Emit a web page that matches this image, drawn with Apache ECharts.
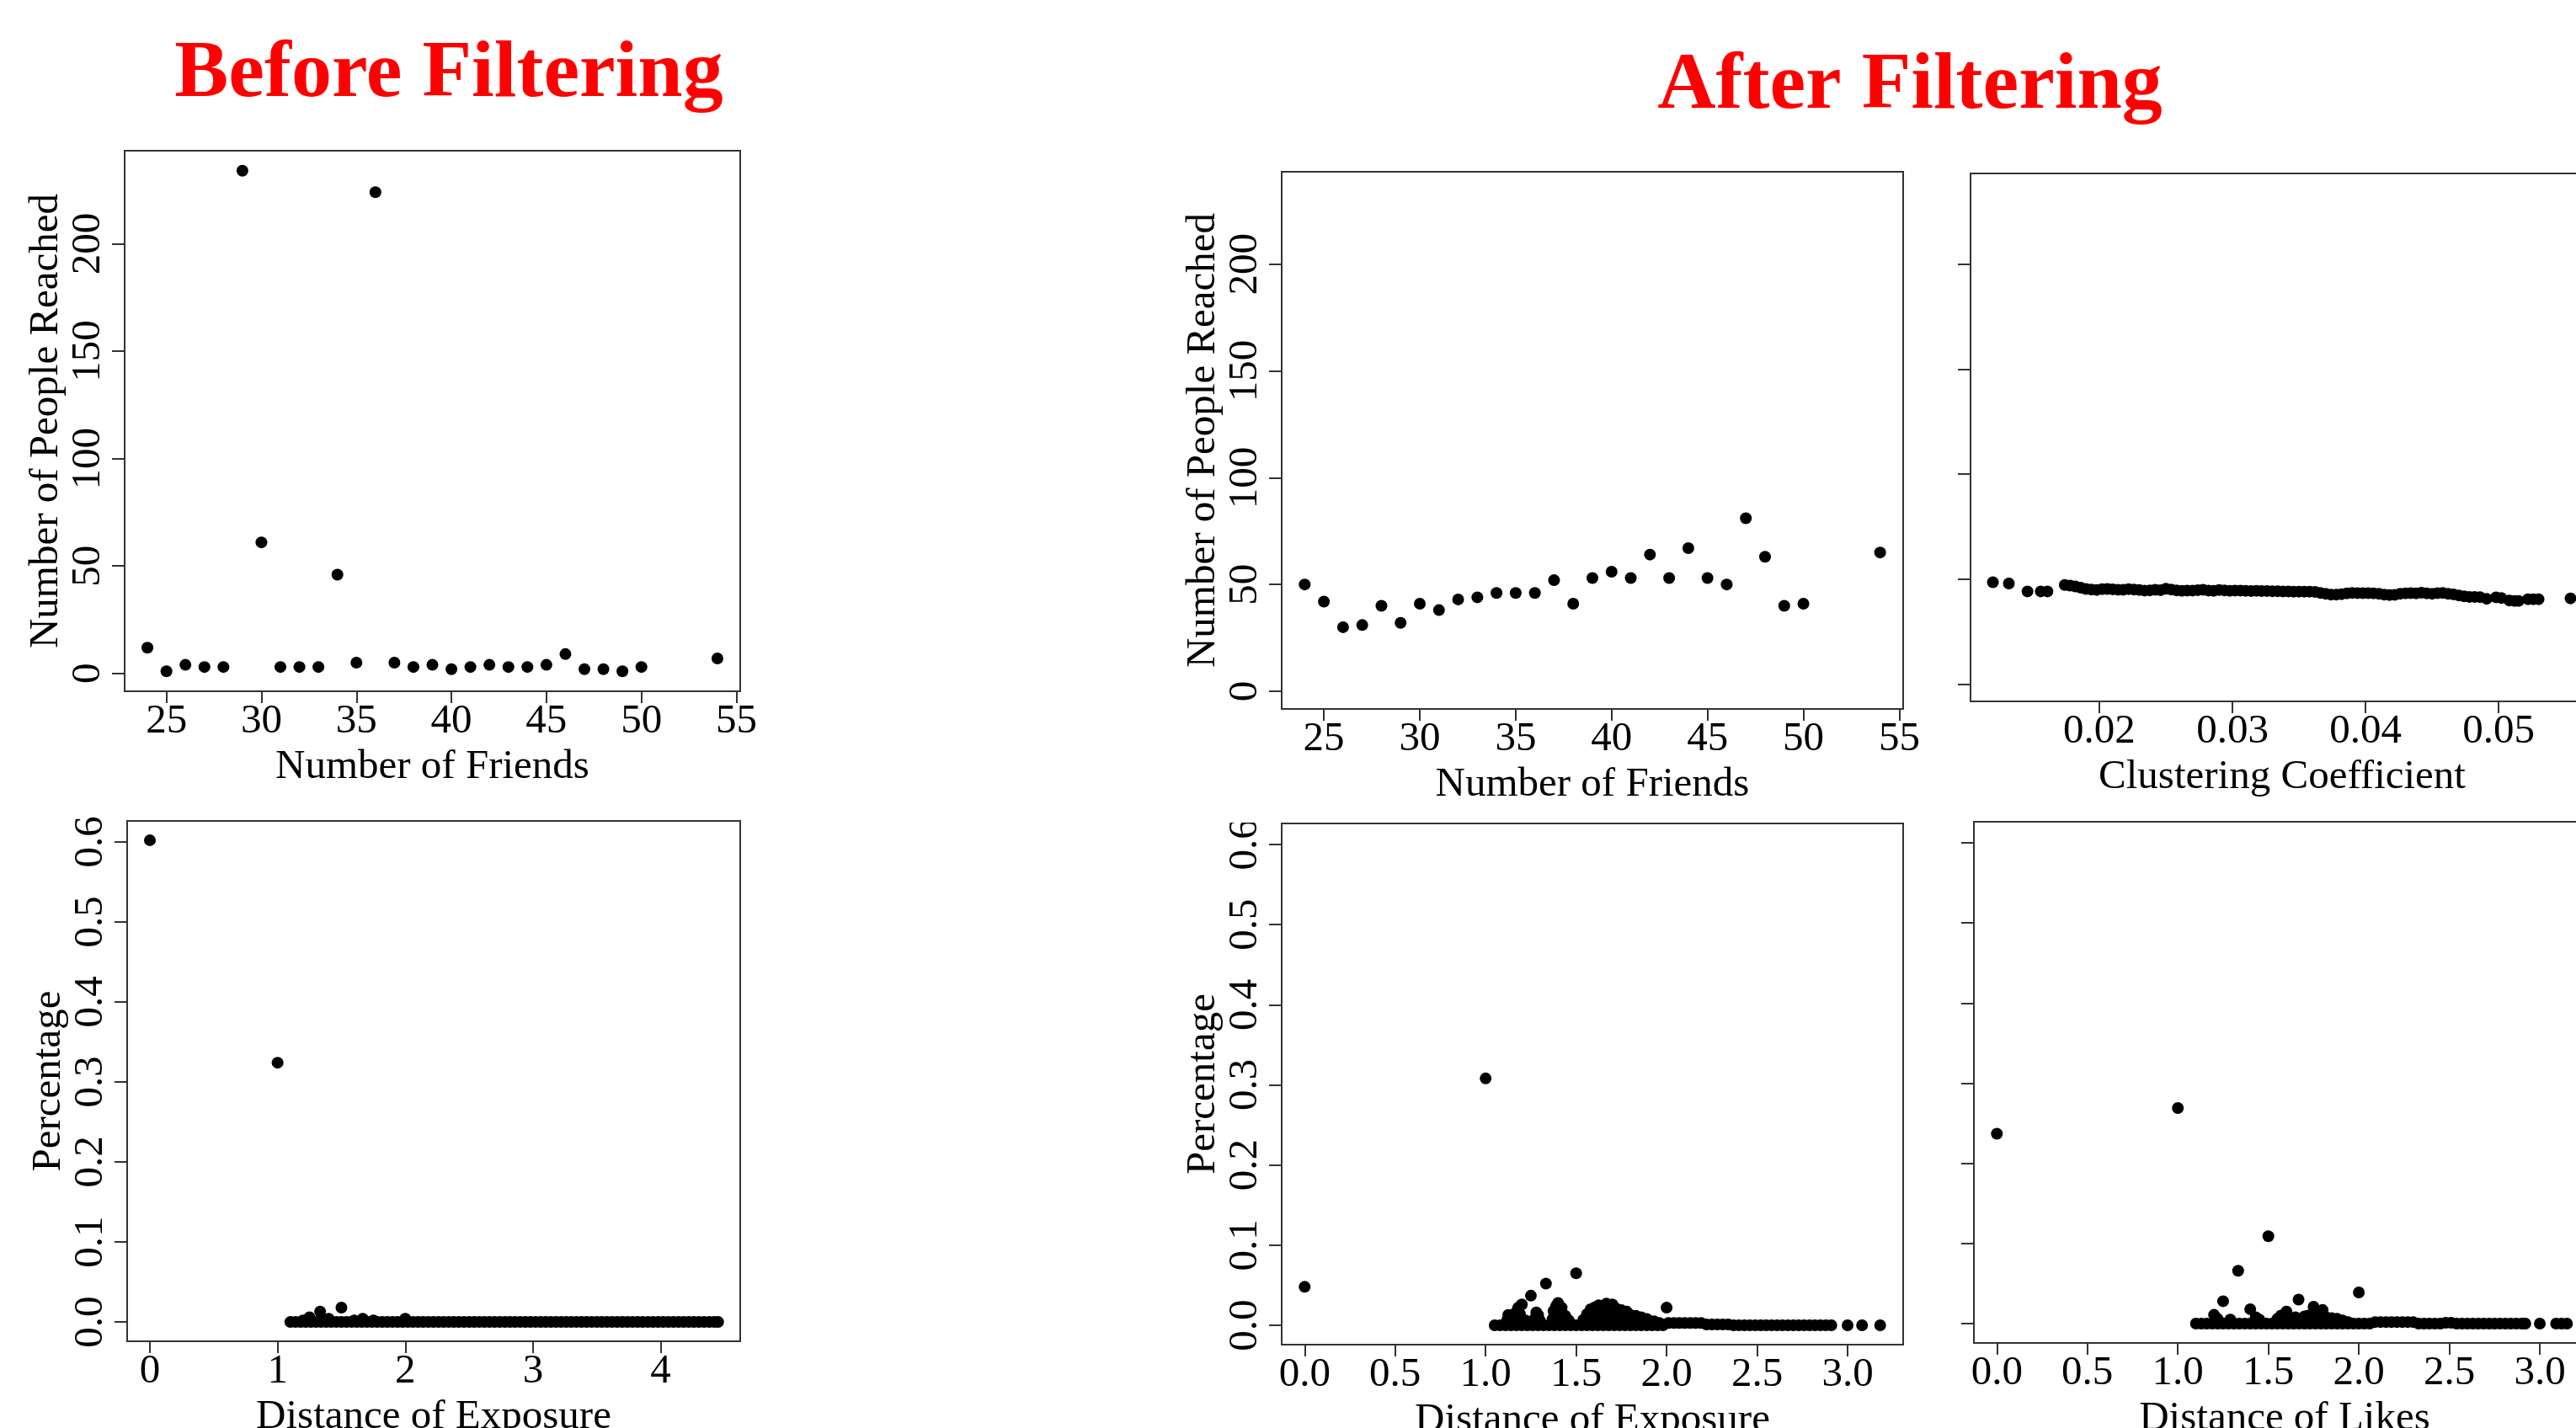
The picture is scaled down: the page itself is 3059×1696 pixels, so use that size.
<!DOCTYPE html>
<html><head><meta charset="utf-8">
<script src="https://cdn.jsdelivr.net/npm/echarts@6/dist/echarts.min.js"></script>
<style>html,body{margin:0;padding:0;background:#fff;overflow:hidden}#c{width:3110px;height:1696px}</style>
</head><body><div id="c"></div><script>
// ---------- DATA ----------
const friendsX = [24,25,26,27,28,29,30,31,32,33,34,35,36,37,38,39,40,41,42,43,44,45,46,47,48,49,50,54];
const reachBefore = [12,1,4,3,3,234,61,3,3,3,46,5,224,5,3,4,2,3,4,3,3,4,9,2,2,1,3,7];
const reachAfter = [50,42,30,31,40,32,41,38,43,44,46,46,46,52,41,53,56,53,64,53,67,53,50,81,63,40,41,65];

const friendsTicks = [25,30,35,40,45,50,55];
const reachTicks = [0,50,100,150,200];
const pctTicks = [0,0.1,0.2,0.3,0.4,0.5,0.6];
const expoBeforeTicks = [0,1,2,3,4];
const expoAfterTicks = [0,0.5,1,1.5,2,2.5,3];
const ccTicks = [0.02,0.03,0.04,0.05];

// Before filtering: distance of exposure vs percentage
const expoBeforeX = [0,1,1.2,1.25,1.333,1.4,1.5,1.6,1.667,1.75,2.0,
 1.10,1.14,1.18,1.22,1.26,1.30,1.34,1.38,1.42,1.46,
 1.50,1.54,1.58,1.62,1.66,1.70,1.74,1.78,1.82,1.86,
 1.90,1.94,1.98,2.02,2.06,2.10,2.14,2.18,2.22,2.26,
 2.30,2.34,2.38,2.42,2.46,2.50,2.54,2.58,2.62,2.66,
 2.70,2.74,2.78,2.82,2.86,2.90,2.94,2.98,3.02,3.06,
 3.10,3.14,3.18,3.22,3.26,3.30,3.34,3.38,3.42,3.46,
 3.50,3.54,3.58,3.62,3.66,3.70,3.74,3.78,3.82,3.86,
 3.90,3.94,3.98,4.02,4.06,4.10,4.14,4.18,4.22,4.26,
 4.30,4.34,4.38,4.42,4.45];
const expoBeforeY = [0.602,0.324,0.002,0.006,0.013,0.004,0.018,0.002,0.004,0.002,0.004,
 0,0,0,0,0,0,0,0,0,0,
 0,0,0,0,0,0,0,0,0,0,
 0,0,0,0,0,0,0,0,0,0,
 0,0,0,0,0,0,0,0,0,0,
 0,0,0,0,0,0,0,0,0,0,
 0,0,0,0,0,0,0,0,0,0,
 0,0,0,0,0,0,0,0,0,0,
 0,0,0,0,0,0,0,0,0,0,
 0,0,0,0,0];

// After filtering: clustering coefficient vs people reached
const ccX = [0.0120,0.0132,0.0146,0.0156,0.0161,
 0.0174,0.0178,0.0182,0.0186,0.0190,0.0194,0.0198,0.0202,0.0206,0.0210,
 0.0214,0.0218,0.0222,0.0226,0.0230,0.0234,0.0238,0.0242,0.0246,0.0250,
 0.0254,0.0258,0.0262,0.0266,0.0270,0.0274,0.0278,0.0282,0.0286,0.0290,
 0.0294,0.0298,0.0302,0.0306,0.0310,0.0314,0.0318,0.0322,0.0326,0.0330,
 0.0334,0.0338,0.0342,0.0346,0.0350,0.0354,0.0358,0.0362,0.0366,0.0370,
 0.0374,0.0378,0.0382,0.0386,0.0390,0.0394,0.0398,0.0402,0.0406,0.0410,
 0.0414,0.0418,0.0422,0.0426,0.0430,0.0434,0.0438,0.0442,0.0446,0.0450,
 0.0454,0.0458,0.0462,0.0466,0.0470,0.0474,0.0478,0.0482,0.0486,
 0.0491,0.0498,0.0502,0.0508,0.0512,0.0515,0.0522,0.0526,0.0530,0.0554];
const ccY = [48.5,47.9,44.1,44.1,44.1,
 47.2,46.9,46.5,45.9,45.3,45.0,44.8,45.2,45.3,45.1,
 44.9,44.9,45.2,45.0,44.8,44.5,44.6,44.9,44.7,45.4,
 45.0,44.6,44.4,44.5,44.5,44.7,44.9,44.5,44.4,44.8,
 44.6,44.4,44.5,44.5,44.4,44.3,44.4,44.3,44.3,44.2,
 44.2,44.1,44.1,44.0,44.0,44.0,44.0,43.9,43.4,43.0,
 42.6,42.6,42.8,43.2,43.4,43.3,43.3,43.3,43.2,43.0,
 42.6,42.4,42.5,43.0,43.2,43.3,43.2,43.5,43.2,43.0,
 43.3,43.4,43.0,42.7,42.2,41.8,41.5,41.5,41.4,
 40.6,41.3,41.0,39.8,39.6,39.6,40.4,40.4,40.4,40.8];

// After filtering: distance of exposure vs percentage
const expoAfterX = [0,1.0,1.5,1.333,1.25,1.2,2.0,
 1.40,1.625,1.667,1.70,
 1.18,1.39,1.42,1.58,1.60,1.63,1.69,1.72,1.75,1.78,
 1.125,1.167,1.19,1.28,1.29,1.375,1.39,1.42,1.44,1.56,1.59,1.62,1.65,1.68,1.71,1.74,1.77,1.80,1.83,1.86,1.89,
 1.12,1.15,1.18,1.22,1.27,1.30,1.37,1.40,1.43,1.46,1.54,1.57,1.60,1.63,1.66,1.69,1.72,1.75,1.78,1.81,1.84,1.87,1.90,1.93,1.96,
 1.05,1.08,1.11,1.14,1.17,1.20,1.23,1.26,1.29,1.32,
 1.35,1.38,1.41,1.44,1.47,1.50,1.53,1.56,1.59,1.62,
 1.65,1.68,1.71,1.74,1.77,1.80,1.83,1.86,1.89,1.92,
 1.95,1.98,2.01,2.04,2.07,2.10,2.13,2.16,2.19,2.22,
 2.25,2.28,2.31,2.34,2.37,2.40,2.43,2.46,2.49,2.52,
 2.55,2.58,2.61,2.64,2.67,2.70,2.73,2.76,2.79,2.82,
 2.85,2.88,2.91,3.00,3.08,3.18];
const expoAfterY = [0.048,0.308,0.065,0.052,0.037,0.026,0.022,
 0.028,0.025,0.027,0.026,
 0.022,0.024,0.022,0.020,0.022,0.024,0.023,0.021,0.019,0.017,
 0.013,0.016,0.014,0.016,0.013,0.018,0.015,0.015,0.012,0.014,0.016,0.016,0.017,0.016,0.016,0.015,0.014,0.013,0.012,0.010,0.008,
 0.007,0.008,0.007,0.006,0.008,0.006,0.008,0.008,0.008,0.006,0.007,0.008,0.008,0.008,0.008,0.008,0.008,0.008,0.008,0.008,0.007,0.007,0.006,0.005,0.003,
 0,0,0,0,0,0,0,0,0,0,
 0,0,0,0,0,0,0,0,0,0,
 0,0,0,0,0,0,0,0,0,0,
 0,0,0.003,0.003,0.003,0.003,0.003,0.003,0.003,0.001,
 0.001,0.001,0.001,0.001,0,0,0,0,0,0,
 0,0,0,0,0,0,0,0,0,0,
 0,0,0,0,0,0];

// After filtering: distance of likes vs percentage
const likesX = [0,1.0,1.5,1.333,1.25,1.4,1.667,2.0,1.2,1.75,1.8,1.6,1.57,1.43,
 1.22,1.29,1.45,1.55,1.58,1.62,1.65,1.70,1.72,1.77,1.82,1.85,1.88,1.91,1.94,
 1.10,1.13,1.16,1.19,1.22,1.25,1.28,1.31,1.34,1.37,
 1.40,1.43,1.46,1.49,1.52,1.55,1.58,1.61,1.64,1.67,
 1.70,1.73,1.76,1.79,1.82,1.85,1.88,1.91,1.94,1.97,
 2.00,2.03,2.06,2.09,2.12,2.15,2.18,2.21,2.24,2.27,
 2.30,2.33,2.36,2.39,2.42,2.45,2.48,2.51,2.54,2.57,
 2.60,2.63,2.66,2.69,2.72,2.75,2.78,2.81,2.84,2.87,
 2.90,2.92,3.00,3.09,3.12,3.15];
const likesY = [0.237,0.269,0.109,0.066,0.028,0.018,0.030,0.039,0.011,0.021,0.017,0.015,0.010,0.008,
 0.006,0.005,0.005,0.006,0.008,0.007,0.008,0.009,0.010,0.010,0.008,0.007,0.006,0.004,0.002,
 0,0,0,0,0,0,0,0,0,0,
 0,0,0,0,0,0,0,0,0,0,
 0,0,0,0,0,0,0,0,0,0,
 0,0,0,0.002,0.002,0.002,0.002,0.002,0.002,0.002,
 0.002,0,0,0,0,0,0.001,0.001,0,0,
 0,0,0,0,0,0,0,0,0,0,
 0,0,0,0,0,0];

// ---------- CHART ----------
const FONT = 'Liberation Serif';
const BOX = '#333';
const FS = 49;

const grids = [
  {left:148, top:179, width:731, height:642},
  {left:151, top:975, width:728, height:618},
  {left:1522, top:204, width:738, height:638},
  {left:2340, top:206, width:740, height:627},
  {left:1522, top:978, width:738, height:619},
  {left:2344, top:976, width:738, height:619}
].map(g => Object.assign({show:true, borderColor:BOX, borderWidth:2, containLabel:false, outerBoundsMode:'none'}, g));

function fmt1(v){ return v.toFixed(1); }
function fmtInt(v){ return String(Math.round(v)); }
function fmtCC(v){ return v.toFixed(2); }

function xAx(i, min, max, ticks, f, name){
  return {
    type:'value', gridIndex:i, min:min, max:max, position:'bottom',
    axisLine:{show:false, onZero:false},
    axisTick:{show:true, inside:false, length:14, lineStyle:{color:BOX, width:2}, customValues:ticks},
    axisLabel:{show:true, customValues:ticks, formatter:f, margin:12, color:'#000', fontFamily:FONT, fontSize:FS},
    splitLine:{show:false},
    name:name, nameLocation:'middle', nameGap:66,
    nameTextStyle:{color:'#000', fontFamily:FONT, fontSize:FS}
  };
}
function yAx(i, min, max, ticks, f, name, showLabels){
  return {
    type:'value', gridIndex:i, min:min, max:max, position:'left',
    axisLine:{show:false, onZero:false},
    axisTick:{show:true, inside:false, length:15, lineStyle:{color:BOX, width:2}, customValues:ticks},
    axisLabel:{show:showLabels, customValues:ticks, formatter:f, rotate:90, margin:18, color:'#000', fontFamily:FONT, fontSize:FS},
    splitLine:{show:false},
    name:name, nameLocation:'middle', nameRotate:90, nameGap:50,
    nameTextStyle:{color:'#000', fontFamily:FONT, fontSize:FS}
  };
}

const FX = [22.8, 55.2], RY = [-8.3, 243.3], PY = [-0.0241, 0.6261];
const EBX = [-0.178, 4.623], EAX = [-0.127, 3.307], CCX = [0.01032, 0.05714];

const xAxes = [
  xAx(0, FX[0], FX[1], friendsTicks, fmtInt, 'Number of Friends'),
  xAx(1, EBX[0], EBX[1], expoBeforeTicks, fmtInt, 'Distance of Exposure'),
  xAx(2, FX[0], FX[1], friendsTicks, fmtInt, 'Number of Friends'),
  xAx(3, CCX[0], CCX[1], ccTicks, fmtCC, 'Clustering Coefficient'),
  xAx(4, EAX[0], EAX[1], expoAfterTicks, fmt1, 'Distance of Exposure'),
  xAx(5, EAX[0], EAX[1], expoAfterTicks, fmt1, 'Distance of Likes')
];
const yAxes = [
  yAx(0, RY[0], RY[1], reachTicks, fmtInt, 'Number of People Reached', true),
  yAx(1, PY[0], PY[1], pctTicks, fmt1, 'Percentage', true),
  yAx(2, RY[0], RY[1], reachTicks, fmtInt, 'Number of People Reached', true),
  yAx(3, RY[0], RY[1], reachTicks, fmtInt, '', false),
  yAx(4, PY[0], PY[1], pctTicks, fmt1, 'Percentage', true),
  yAx(5, PY[0], PY[1], pctTicks, fmt1, '', false)
];

function zip(xs, ys){ return xs.map((x, k) => [x, ys[k]]); }
const panels = [
  zip(friendsX, reachBefore),
  zip(expoBeforeX, expoBeforeY),
  zip(friendsX, reachAfter),
  zip(ccX, ccY),
  zip(expoAfterX, expoAfterY),
  zip(likesX, likesY)
];
const series = panels.map((d, i) => ({
  type:'scatter', xAxisIndex:i, yAxisIndex:i, data:d,
  symbol:'circle', symbolSize:14, itemStyle:{color:'#000', opacity:1},
  clip:true, silent:true, animation:false
}));

const chart = echarts.init(document.getElementById('c'), null, {renderer:'canvas', width:3110, height:1696});
chart.setOption({
  backgroundColor:'#fff',
  animation:false,
  title:[
    {text:'Before Filtering', left:528, top:36, textAlign:'center',
     textStyle:{color:'#ff0000', fontFamily:FONT, fontWeight:'bold', fontSize:96}},
    {text:'After Filtering', left:2263, top:50, textAlign:'center',
     textStyle:{color:'#ff0000', fontFamily:FONT, fontWeight:'bold', fontSize:96}}
  ],
  grid:grids, xAxis:xAxes, yAxis:yAxes, series:series,
  graphic:[
    // the lower-right figure is pasted just below the upper one, hiding the top of its "0.6" label
    {type:'rect', z:100, silent:true, shape:{x:1440, y:950, width:78, height:27}, style:{fill:'#fff'}}
  ]
});
</script></body></html>
